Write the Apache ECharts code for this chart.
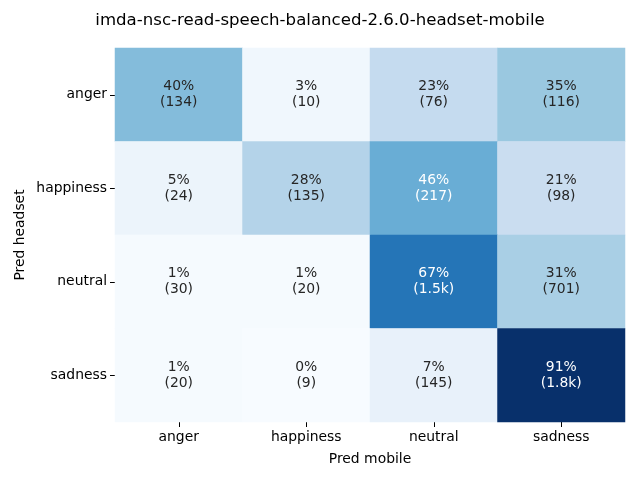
<!DOCTYPE html>
<html><head><meta charset="utf-8">
<script src="https://cdn.jsdelivr.net/npm/echarts@6/dist/echarts.min.js"></script>
<style>html,body{margin:0;padding:0;background:#fff}#c{width:640px;height:480px}</style>
</head><body><div id="c"></div>
<script>
const xCategories = ["anger", "happiness", "neutral", "sadness"];
const yCategories = ["anger", "happiness", "neutral", "sadness"];
// percentages per row (headset label) and column (mobile label)
const pctAnger = [40, 3, 23, 35];
const pctHappiness = [5, 28, 46, 21];
const pctNeutral = [1, 1, 67, 31];
const pctSadness = [1, 0, 7, 91];
const cntAnger = ["134", "10", "76", "116"];
const cntHappiness = ["24", "135", "217", "98"];
const cntNeutral = ["30", "20", "1.5k", "701"];
const cntSadness = ["20", "9", "145", "1.8k"];
const titleText = "imda-nsc-read-speech-balanced-2.6.0-headset-mobile";

const pctRows = [pctAnger, pctHappiness, pctNeutral, pctSadness];
const cntRows = [cntAnger, cntHappiness, cntNeutral, cntSadness];
const vmax = 91;
const data = [];
pctRows.forEach((row, yi) => row.forEach((v, xi) => {
  data.push({
    value: [xi, yi, v],
    cnt: cntRows[yi][xi],
    label: { color: v / vmax > 0.48 ? '#ffffff' : '#262626' }
  });
}));
const font = 'DejaVu Sans';
const chart = echarts.init(document.getElementById('c'));
chart.setOption({
  animation: false,
  backgroundColor: '#ffffff',
  title: { text: titleText, left: 'center', top: 7,
    textStyle: { fontFamily: font, fontSize: 16.6, fontWeight: 'normal', color: '#000' } },
  grid: { left: 115, right: 15, top: 48, bottom: 58 },
  xAxis: { type: 'category', data: xCategories,
    name: 'Pred mobile', nameLocation: 'middle', nameGap: 30,
    nameTextStyle: { fontFamily: font, fontSize: 13.9, color: '#000' },
    axisLine: { show: false },
    axisTick: { show: true, alignWithLabel: true, length: 5, lineStyle: { color: '#000' } },
    axisLabel: { fontFamily: font, fontSize: 13.9, color: '#000', margin: 8 },
    splitLine: { show: false } },
  yAxis: { type: 'category', data: yCategories, inverse: true,
    name: 'Pred headset', nameLocation: 'middle', nameGap: 88, nameRotate: 90,
    nameMoveOverlap: false,
    nameTextStyle: { fontFamily: font, fontSize: 13.9, color: '#000' },
    axisLine: { show: false },
    axisTick: { show: true, alignWithLabel: true, length: 5, lineStyle: { color: '#000' } },
    axisLabel: { fontFamily: font, fontSize: 13.9, color: '#000', margin: 8 },
    splitLine: { show: false } },
  visualMap: { show: false, min: 0, max: vmax, dimension: 2,
    inRange: { color: ['#f7fbff', '#deebf7', '#c6dbef', '#9ecae1', '#6baed6', '#4292c6', '#2171b5', '#08519c', '#08306b'] } },
  series: [{
    type: 'heatmap', data: data,
    label: { show: true, fontFamily: font, fontSize: 13.9, lineHeight: 16,
      formatter: p => p.value[2] + '%\n(' + p.data.cnt + ')' },
    itemStyle: { borderWidth: 0 },
    emphasis: { disabled: true }
  }]
});
</script></body></html>
